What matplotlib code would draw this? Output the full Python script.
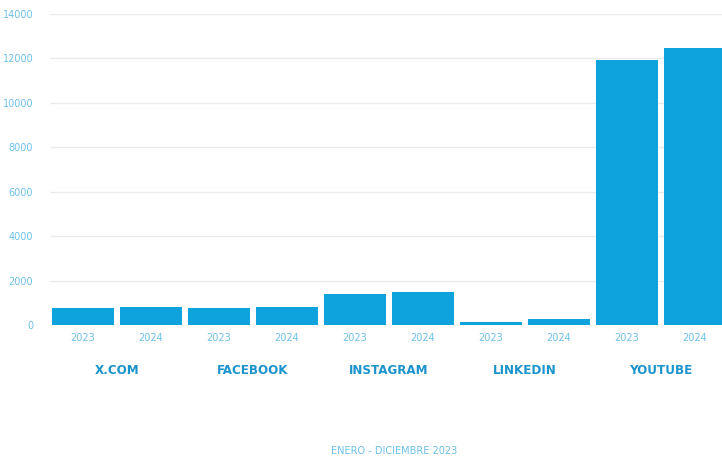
import numpy as np
import matplotlib.pyplot as plt
from matplotlib.transforms import blended_transform_factory

# Data
platforms = ["X.COM", "FACEBOOK", "INSTAGRAM", "LINKEDIN", "YOUTUBE"]
years = ["2023", "2024"]
values_2023 = [760, 770, 1400, 140, 11950]
values_2024 = [810, 800, 1490, 270, 12450]
y_ticks = [0, 2000, 4000, 6000, 8000, 10000, 12000, 14000]
footer = "ENERO - DICIEMBRE 2023"

bar_color = "#0ea3dd"
light_blue = "#6cc0e8"
label_blue = "#1b93cc"

# interleave 2023/2024 per platform
values = []
labels = []
for v23, v24 in zip(values_2023, values_2024):
    values += [v23, v24]
    labels += years
x = np.arange(len(values))

fig = plt.figure(figsize=(7.22, 4.61), dpi=100)
W, H = 722, 461
ax = fig.add_axes([50 / W, (H - 325) / H, 672 / W, (325 - 14) / H])

ax.bar(x, values, width=0.91, color=bar_color, zorder=3)

ax.set_xlim(-0.485, 9.397)
ax.set_ylim(0, 14000)
ax.set_yticks(y_ticks)
ax.set_yticklabels([str(t) for t in y_ticks], fontsize=7, color=light_blue)
ax.set_xticks(x)
ax.set_xticklabels(labels, fontsize=7, color=light_blue)
ax.tick_params(axis="both", length=0)
ax.tick_params(axis="x", pad=6)
ax.tick_params(axis="y", pad=12)

ax.grid(axis="y", color="#ebebeb", linewidth=1, zorder=0)
for s in ax.spines.values():
    s.set_visible(False)

# Platform group labels
trans = blended_transform_factory(ax.transData, fig.transFigure)
for i, name in enumerate(platforms):
    ax.text(2 * i + 0.5, 1 - 370 / H, name, transform=trans,
            ha="center", va="center", fontsize=9.5, fontweight="bold",
            fontstretch="condensed", color=label_blue)

fig.text(394 / W, 1 - 451 / H, footer, ha="center", va="center",
         fontsize=7, color=light_blue)

fig.savefig("out.png", dpi=100)
